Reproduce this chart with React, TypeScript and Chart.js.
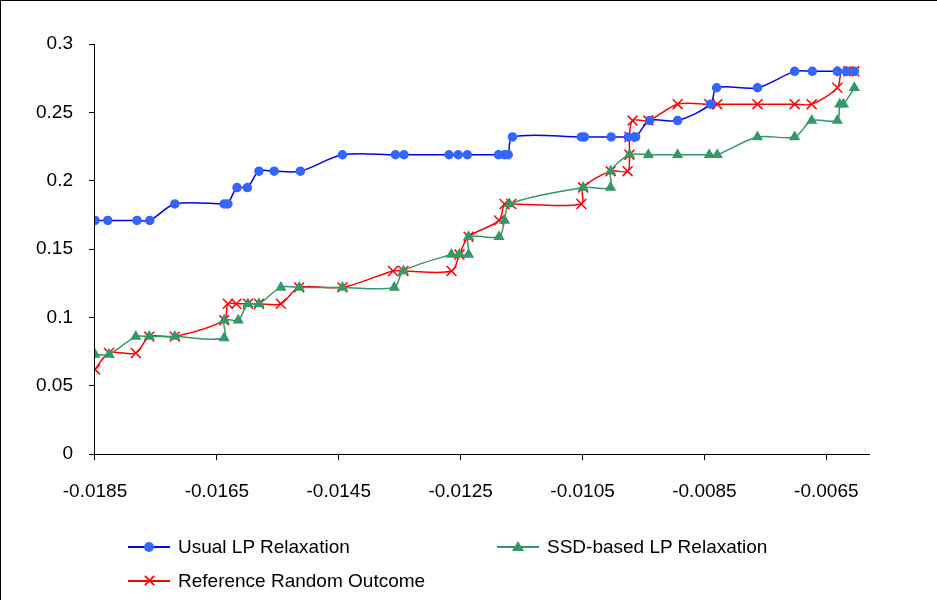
import React, { useRef, useEffect } from "react";
import { Chart, registerables } from "chart.js";

Chart.register(...registerables);

const xTicks = [-0.0185, -0.0165, -0.0145, -0.0125, -0.0105, -0.0085, -0.0065];

const usualX = [-0.0185, -0.01829, -0.01781, -0.0176, -0.01719, -0.01638, -0.01632, -0.01617, -0.016, -0.01581, -0.01556, -0.01513, -0.01444, -0.01357, -0.01343, -0.01269, -0.01254, -0.01239, -0.01188, -0.01178, -0.01172, -0.01165, -0.01052, -0.01047, -0.01003, -0.00975, -0.00963, -0.0094, -0.00894, -0.0084, -0.0083, -0.00763, -0.00702, -0.00673, -0.00632, -0.00617, -0.00604];
const usualY = [0.171, 0.171, 0.171, 0.171, 0.183, 0.183, 0.183, 0.195, 0.195, 0.207, 0.207, 0.207, 0.219, 0.219, 0.219, 0.219, 0.219, 0.219, 0.219, 0.219, 0.219, 0.232, 0.232, 0.232, 0.232, 0.232, 0.232, 0.244, 0.244, 0.256, 0.268, 0.268, 0.28, 0.28, 0.28, 0.28, 0.28];

const ssdX = [-0.0185, -0.01827, -0.01783, -0.01761, -0.01719, -0.01638, -0.01638, -0.01615, -0.01599, -0.01581, -0.01545, -0.01515, -0.01444, -0.01359, -0.01344, -0.01265, -0.01252, -0.01237, -0.01237, -0.01187, -0.01178, -0.0117, -0.01049, -0.01004, -0.01004, -0.00973, -0.00942, -0.00894, -0.00842, -0.00829, -0.00763, -0.00702, -0.00674, -0.00632, -0.00628, -0.00622, -0.00604];
const ssdY = [0.073, 0.073, 0.086, 0.086, 0.086, 0.085, 0.098, 0.098, 0.11, 0.11, 0.122, 0.122, 0.122, 0.122, 0.134, 0.146, 0.146, 0.146, 0.159, 0.159, 0.171, 0.183, 0.195, 0.195, 0.207, 0.219, 0.219, 0.219, 0.219, 0.219, 0.232, 0.232, 0.244, 0.244, 0.256, 0.256, 0.268];

const refX = [-0.0185, -0.01827, -0.01783, -0.01761, -0.01719, -0.01638, -0.01632, -0.01618, -0.01599, -0.01581, -0.01545, -0.01515, -0.01444, -0.01361, -0.01344, -0.01265, -0.01252, -0.01237, -0.01187, -0.01178, -0.01167, -0.01052, -0.01049, -0.01004, -0.00976, -0.00973, -0.00973, -0.00968, -0.00942, -0.00894, -0.00842, -0.00829, -0.00763, -0.00702, -0.00674, -0.00632, -0.00625, -0.00614, -0.00604];
const refY = [0.062, 0.074, 0.074, 0.086, 0.086, 0.098, 0.11, 0.11, 0.11, 0.11, 0.11, 0.122, 0.122, 0.134, 0.134, 0.134, 0.146, 0.159, 0.171, 0.183, 0.183, 0.183, 0.195, 0.207, 0.207, 0.219, 0.232, 0.244, 0.244, 0.256, 0.256, 0.256, 0.256, 0.256, 0.256, 0.268, 0.28, 0.28, 0.28];

const pts = (xs: number[], ys: number[]) => xs.map((x, i) => ({ x, y: ys[i] }));

const font = { family: "Liberation Sans, Arial, sans-serif", size: 19 };

const App: React.FC = () => {
  const chartRef = useRef<HTMLCanvasElement | null>(null);

  useEffect(() => {
    if (!chartRef.current) return;
    const ctx = chartRef.current.getContext("2d");
    if (!ctx) return;

    const chart = new Chart(ctx, {
      type: "scatter",
      data: {
        datasets: [
          {
            label: "Usual LP Relaxation",
            data: pts(usualX, usualY),
            showLine: true,
            borderColor: "#0000FF",
            backgroundColor: "#3366FF",
            pointBackgroundColor: "#3366FF",
            pointBorderColor: "#3366FF",
            pointStyle: "circle",
            pointRadius: 4,
            borderWidth: 1.5,
            tension: 0.3,
          },
          {
            label: "SSD-based LP Relaxation",
            data: pts(ssdX, ssdY),
            showLine: true,
            borderColor: "#339966",
            backgroundColor: "#339966",
            pointStyle: "triangle",
            pointRadius: 5,
            borderWidth: 1.5,
            tension: 0.3,
          },
          {
            label: "Reference Random Outcome",
            data: pts(refX, refY),
            showLine: true,
            borderColor: "#FF0000",
            backgroundColor: "#FF0000",
            pointStyle: "crossRot",
            pointRadius: 7,
            pointBorderWidth: 1.5,
            borderWidth: 1.5,
            tension: 0.3,
          },
        ],
      },
      options: {
        responsive: false,
        animation: false,
        layout: { padding: { top: 43, right: 69, bottom: 78, left: 19 } },
        plugins: { legend: { display: false }, tooltip: { enabled: false } },
        scales: {
          x: {
            type: "linear",
            min: -0.0185,
            max: -0.0058,
            afterBuildTicks: (axis: any) => {
              axis.ticks = xTicks.map((v) => ({ value: v }));
            },
            border: { color: "#000", width: 1 },
            grid: { drawOnChartArea: false, color: "#000", tickLength: 6 },
            ticks: { color: "#000", font, padding: 20, maxRotation: 0, callback: (v: any) => String(v) },
          },
          y: {
            min: 0,
            max: 0.3,
            border: { color: "#000", width: 1 },
            grid: { drawOnChartArea: false, color: "#000", tickLength: 6 },
            ticks: { color: "#000", font, stepSize: 0.05, padding: 16, callback: (v: any) => String(Math.round(v * 100) / 100) },
          },
        },
      },
    });

    return () => {
      chart.destroy();
    };
  }, []);

  const item = (left: number, top: number, label: string, marker: React.ReactNode, color: string) => (
    <div style={{ position: "absolute", left, top, display: "flex", alignItems: "center" }}>
      <div style={{ position: "relative", width: 42, height: 20 }}>
        <div style={{ position: "absolute", left: 0, right: 0, top: 9, height: 2, background: color }} />
        {marker}
      </div>
      <span style={{ marginLeft: 8, fontSize: 19, fontFamily: "Liberation Sans, Arial, sans-serif", color: "#000" }}>{label}</span>
    </div>
  );

  return (
    <div style={{ position: "fixed", left: 0, top: 0, width: 937, height: 600, background: "#fff", boxSizing: "border-box", borderLeft: "1px solid #000", borderTop: "1px solid #000" }}>
      <canvas ref={chartRef} width={937} height={600} style={{ position: "absolute", left: 0, top: 0 }} />
      {item(127, 535, "Usual LP Relaxation",
        <div style={{ position: "absolute", left: 16, top: 5, width: 10, height: 10, borderRadius: 5, background: "#3366FF" }} />, "#0000FF")}
      {item(496, 535, "SSD-based LP Relaxation",
        <div style={{ position: "absolute", left: 15, top: 4, width: 0, height: 0, borderLeft: "6px solid transparent", borderRight: "6px solid transparent", borderBottom: "10px solid #339966" }} />, "#339966")}
      {item(127, 569, "Reference Random Outcome",
        <div style={{ position: "absolute", left: 14, top: 3, width: 14, height: 14, color: "#FF0000", fontSize: 18, lineHeight: "14px", textAlign: "center", fontFamily: "DejaVu Sans" }}>✕</div>, "#FF0000")}
    </div>
  );
};

export default App;
